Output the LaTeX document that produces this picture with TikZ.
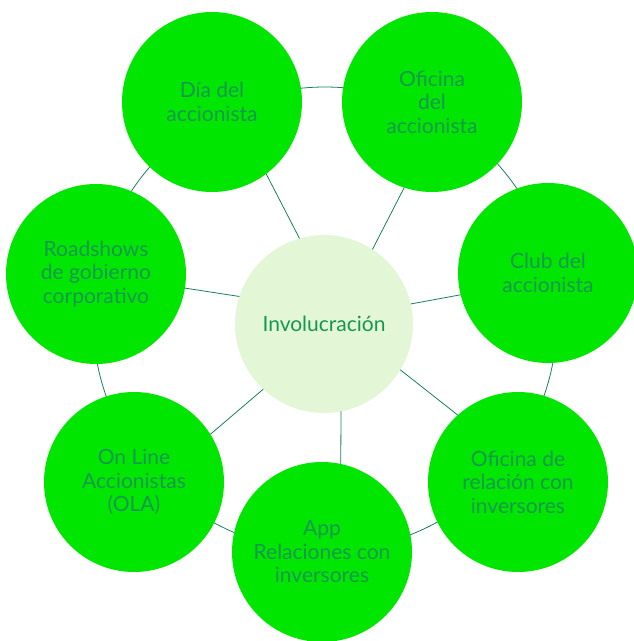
\documentclass[tikz,border=0pt]{standalone}
\usepackage{fontspec}
\setmainfont{Lato}
\definecolor{leafgreen}{HTML}{00E600}
\definecolor{palegreen}{HTML}{E3F7D6}
\definecolor{inkgreen}{HTML}{14984F}
\definecolor{wiregreen}{HTML}{1A7F5A}
\begin{document}
\begin{tikzpicture}[x=1pt,y=-1pt,font=\fontsize{21}{23.5}\selectfont,line cap=round]
	\tikzset{petal/.style={circle,fill=leafgreen,minimum size=180pt,inner sep=0pt,align=center,text=inkgreen},
		hub/.style={circle,fill=palegreen,minimum size=178pt,inner sep=0pt,align=center,text=inkgreen},
		spoke/.style={draw=wiregreen,line width=0.8pt}}
	\useasboundingbox (0,0) rectangle (633,641);
	% ring behind the petals
	\draw[spoke] (325,319) circle (232pt);
	\node[hub] (inv) at (324,324) {Involucración};
	\node[petal] (dia) at (212,102) {Día del\\accionista};
	\node[petal] (ofi) at (432,102) {Oficina\\del\\accionista};
	\node[petal] (club) at (548,273) {Club del\\accionista};
	\node[petal] (road) at (96,274) {Roadshows\\de gobierno\\corporativo};
	\node[petal] (ola) at (134,482) {On Line\\Accionistas\\(OLA)};
	\node[petal] (app) at (322,552) {App\\Relaciones con\\inversores};
	\node[petal] (rel) at (518,482) {Oficina de\\relación con\\inversores};
	% spokes
	\draw[spoke] (inv.106.6) -- (dia.-53.1);
	\draw[spoke] (inv.57.7) -- (ofi.-108.6);
	\draw[spoke] (inv.13.6) -- (club.194.6);
	\draw[spoke] (inv.162.3) -- (road.-9.5);
	\draw[spoke] (inv.227.7) -- (ola.32.8);
	\draw[spoke] (inv.-79.8) -- (app.78.5);
	\draw[spoke] (inv.-31.2) -- (rel.132.8);
\end{tikzpicture}
\end{document}
